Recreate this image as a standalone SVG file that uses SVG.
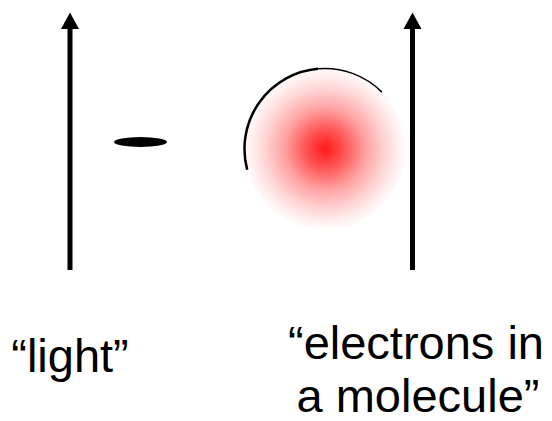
<svg xmlns="http://www.w3.org/2000/svg" width="552" height="421" viewBox="0 0 552 421">
<style>
.lbl{font-family:"Liberation Sans",Arial,sans-serif;font-size:47px;fill:#000;text-anchor:middle}
.ray{stroke:#000;stroke-width:5;fill:none}
.rim{fill:none;stroke:#000}
</style>
<defs>
<marker id="ah" markerUnits="userSpaceOnUse" markerWidth="17" markerHeight="18" viewBox="0 0 17 18" refX="0.5" refY="9" orient="auto" overflow="visible">
<path d="M0 0 L16.5 9 L0 18 Z" fill="#000"/>
</marker>
<radialGradient id="cloud" cx="0.5" cy="0.5" r="0.5">
<stop offset="0" stop-color="#ff1a1a"/>
<stop offset="0.25" stop-color="#ff5656"/>
<stop offset="0.5" stop-color="#ffa0a0"/>
<stop offset="0.75" stop-color="#ffd4d4"/>
<stop offset="0.92" stop-color="#fff0f0"/>
<stop offset="1" stop-color="#fffafa"/>
</radialGradient>
</defs>
<g id="connectors">
<line class="ray" x1="70" y1="270" x2="70" y2="28.5" marker-end="url(#ah)"/>
<line class="ray" x1="412.5" y1="270" x2="412.5" y2="28.5" marker-end="url(#ah)"/>
</g>
<g id="electron">
<ellipse cx="140.5" cy="142" rx="26.5" ry="5" fill="#000"/>
</g>
<g id="molecule">
<circle cx="325" cy="149" r="80" fill="url(#cloud)"/>
<path class="rim" d="M247.2 169.8 A80.5 80.5 0 0 1 318 68.8" stroke-width="2.5"/>
<path class="rim" d="M318 68.8 A80.5 80.5 0 0 1 381.9 92.1" stroke-width="1.5"/>
</g>
<g id="label-light">
<text class="lbl" x="70" y="372">“light”</text>
</g>
<g id="label-molecule">
<text class="lbl" x="416" y="359">“electrons in</text>
<text class="lbl" x="418" y="412">a molecule”</text>
</g>
</svg>
